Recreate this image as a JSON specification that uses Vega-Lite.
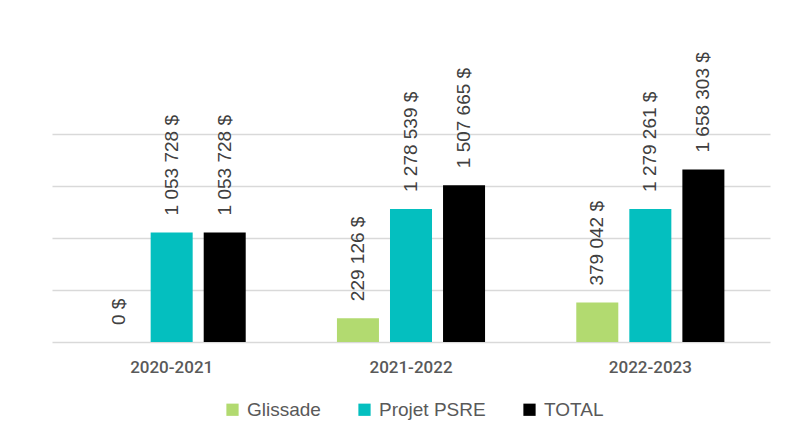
{
  "$schema": "https://vega.github.io/schema/vega-lite/v6.json",
  "autosize": {"type": "none"},
  "width": 718,
  "height": 208,
  "padding": {"left": 52, "top": 134, "right": 22, "bottom": 86},
  "background": "white",
  "config": {
    "view": {"stroke": null},
    "locale": {"number": {"decimal": ",", "thousands": " ", "grouping": [3], "currency": ["", " $"]}}
  },
  "data": {
    "values": [
      {"year": "2020-2021", "series": "Glissade", "value": 0},
      {"year": "2020-2021", "series": "Projet PSRE", "value": 1053728},
      {"year": "2020-2021", "series": "TOTAL", "value": 1053728},
      {"year": "2021-2022", "series": "Glissade", "value": 229126},
      {"year": "2021-2022", "series": "Projet PSRE", "value": 1278539},
      {"year": "2021-2022", "series": "TOTAL", "value": 1507665},
      {"year": "2022-2023", "series": "Glissade", "value": 379042},
      {"year": "2022-2023", "series": "Projet PSRE", "value": 1279261},
      {"year": "2022-2023", "series": "TOTAL", "value": 1658303}
    ]
  },
  "encoding": {
    "x": {
      "field": "year", "type": "nominal",
      "scale": {"paddingInner": 0, "paddingOuter": 0},
      "axis": {"title": null, "labelAngle": 0, "domain": false, "ticks": false, "labelPadding": 17,
               "labelFont": "Roboto", "labelFontWeight": 500, "labelFontSize": 17, "labelColor": "#595959"}
    },
    "xOffset": {
      "field": "series", "type": "nominal", "sort": ["Glissade", "Projet PSRE", "TOTAL"],
      "scale": {"paddingInner": 0.208, "paddingOuter": 0.86}
    },
    "y": {
      "field": "value", "type": "quantitative",
      "scale": {"domain": [0, 2000000], "nice": false},
      "axis": {"title": null, "labels": false, "ticks": false, "domain": false, "grid": true,
               "gridColor": "#d9d9d9", "gridWidth": 1.5, "values": [0, 500000, 1000000, 1500000, 2000000]}
    }
  },
  "layer": [
    {
      "mark": {"type": "bar"},
      "encoding": {
        "color": {
          "field": "series", "type": "nominal",
          "scale": {"domain": ["Glissade", "Projet PSRE", "TOTAL"], "range": ["#b2da70", "#04bfbf", "#000000"]},
          "legend": {
            "title": null, "orient": "none", "direction": "horizontal", "legendX": 171, "legendY": 266,
            "symbolType": "square", "symbolSize": 150, "symbolStrokeWidth": 0, "symbolOpacity": 1,
            "labelOffset": 5, "columnPadding": 34, "labelFont": "Liberation Sans", "labelFontSize": 19,
            "labelColor": "#595959"
          }
        }
      }
    },
    {
      "mark": {"type": "text", "angle": 270, "align": "left", "baseline": "middle", "dx": 17,
               "font": "Liberation Sans", "fontSize": 19, "color": "#404040"},
      "encoding": {
        "text": {"field": "value", "type": "quantitative", "format": "$,.0f"}
      }
    }
  ]
}
